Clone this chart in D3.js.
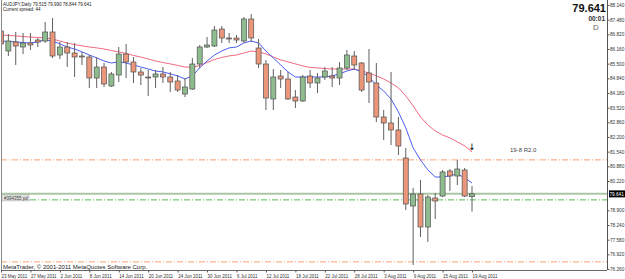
<!DOCTYPE html>
<html>
<head>
<meta charset="utf-8">
<script src="https://cdn.jsdelivr.net/npm/d3@7"></script>
<style>
  body { margin: 0; background: #fff; }
  svg { display: block; }
  text { font-family: Arial, "Liberation Sans", sans-serif; }
</style>
</head>
<body>
<div id="chart"></div>
<script>
// AUDJPY daily, 23 May - 19 Aug 2011
const symbol = "AUDJPY,Daily";
const spread = 44;
const serverTime = "00:01";

const opens = [
  86.97, 86.07, 86.475, 86.25, 86.43, 86.565, 86.52, 86.925, 85.89, 86.25,
  85.98, 85.845, 85.80, 84.855, 85.35, 84.495, 84.99, 85.935, 85.575, 85.125,
  84.90, 84.90, 85.035, 84.90, 84.72, 84.135, 84.36, 85.485, 86.25, 86.295,
  87.06, 86.655, 86.655, 86.52, 87.51, 86.205, 85.485, 83.91, 84.945, 84.81,
  84.00, 83.82, 84.945, 84.63, 84.90, 84.945, 84.855, 85.305, 85.845, 85.53,
  85.08, 84.63, 83.10, 82.83, 82.515, 81.255, 79.095, 79.635, 78.15, 79.455,
  79.545, 80.67, 80.445, 80.715, 79.515
];
const highs = [
  87.00, 86.835, 86.925, 86.88, 86.88, 86.655, 87.375, 87.555, 86.475, 86.475,
  86.43, 86.025, 85.89, 85.80, 85.53, 85.125, 86.25, 86.385, 85.80, 85.305,
  85.215, 85.215, 85.35, 85.125, 84.99, 84.855, 85.755, 86.34, 86.70, 87.195,
  87.195, 86.88, 86.79, 87.60, 87.735, 86.61, 85.665, 85.26, 85.215, 85.125,
  84.315, 84.99, 85.215, 85.08, 85.35, 85.35, 85.575, 86.115, 86.07, 85.575,
  86.16, 85.53, 83.415, 85.125, 83.10, 81.705, 79.905, 80.265, 79.59, 79.68,
  80.715, 80.76, 81.165, 80.805, 79.99
];
const lows = [
  85.665, 85.845, 85.44, 85.935, 86.115, 86.25, 86.43, 85.755, 85.71, 85.35,
  84.90, 85.44, 84.405, 84.405, 84.45, 84.45, 84.675, 84.855, 84.63, 84.54,
  84.045, 84.405, 84.63, 84.225, 84.225, 84.00, 84.315, 85.305, 86.205, 86.25,
  86.43, 86.43, 86.43, 86.43, 86.475, 85.305, 83.415, 83.415, 84.405, 83.865,
  83.505, 83.775, 84.405, 84.18, 84.765, 84.45, 84.54, 85.215, 85.215, 84.225,
  83.73, 82.875, 82.065, 81.84, 81.39, 78.915, 76.44, 77.70, 77.475, 78.51,
  79.50, 79.77, 80.04, 79.50, 78.844
];
const closes = [
  86.385, 86.52, 86.295, 86.43, 86.34, 86.475, 86.925, 85.845, 86.25, 85.98,
  85.80, 85.80, 84.855, 85.35, 84.585, 85.035, 85.935, 85.575, 85.125, 84.99,
  84.88, 85.035, 84.90, 84.675, 84.315, 84.45, 85.485, 86.25, 86.34, 87.015,
  86.655, 86.63, 86.565, 87.51, 86.655, 85.485, 83.955, 84.90, 84.81, 83.91,
  83.82, 84.90, 84.63, 84.855, 85.17, 84.855, 85.305, 85.89, 85.44, 84.315,
  84.675, 83.10, 82.83, 82.515, 81.795, 79.185, 79.635, 78.15, 79.50, 79.32,
  80.625, 80.445, 80.76, 79.545, 79.641
];

// moving averages as drawn on the chart
const fastMA = [
  86.52, 86.50, 86.48, 86.45, 86.43, 86.48, 86.57, 86.52, 86.39, 86.25,
  86.16, 86.03, 85.89, 85.76, 85.62, 85.53, 85.58, 85.53, 85.44, 85.35,
  85.26, 85.17, 85.13, 85.04, 84.95, 84.81, 84.95, 85.31, 85.62, 85.89,
  86.07, 86.21, 86.25, 86.43, 86.52, 86.43, 86.07, 85.76, 85.44, 85.13,
  84.90, 84.90, 84.90, 84.90, 84.90, 84.95, 85.04, 85.17, 85.26, 85.13,
  84.90, 84.54, 84.27, 83.91, 83.33, 82.61, 81.71, 81.17, 80.72, 80.40,
  80.40, 80.45, 80.54, 80.36, 80.13
];
const slowMA = [
  86.79, 86.77, 86.75, 86.72, 86.70, 86.68, 86.66, 86.61, 86.52, 86.43,
  86.36, 86.30, 86.25, 86.21, 86.16, 86.09, 86.03, 85.96, 85.87, 85.80,
  85.71, 85.62, 85.55, 85.49, 85.42, 85.35, 85.33, 85.42, 85.55, 85.69,
  85.78, 85.85, 85.89, 85.98, 86.07, 86.03, 85.94, 85.80, 85.67, 85.58,
  85.49, 85.40, 85.33, 85.31, 85.28, 85.26, 85.26, 85.26, 85.26, 85.17,
  85.08, 84.95, 84.81, 84.63, 84.41, 84.05, 83.60, 83.10, 82.74, 82.47,
  82.29, 82.16, 81.98, 81.80, 81.53
];

const dateTicks = [0, 4, 8, 12, 16, 20, 24, 28, 32, 36, 40, 44, 48, 52, 56, 60, 64];
const dateLabels = [
  "23 May 2011", "27 May 2011", "2 Jun 2011", "8 Jun 2011", "14 Jun 2011",
  "20 Jun 2011", "24 Jun 2011", "30 Jun 2011", "6 Jul 2011", "12 Jul 2011",
  "18 Jul 2011", "22 Jul 2011", "28 Jul 2011", "3 Aug 2011", "9 Aug 2011",
  "15 Aug 2011", "19 Aug 2011"
];
const priceTicks = [88.14, 87.48, 86.82, 86.16, 85.50, 84.84, 84.18, 83.52, 82.86,
  82.20, 81.54, 80.88, 80.22, 78.90, 78.24, 77.58, 76.92, 76.26];

const r2Level = 81.17;
const r2Label = "19-8 R2.0";
const lowLevel = 76.58;
const greenLevel = 79.37;
const bid = 79.641;
const objLabel = "#394355 pd";

const width = 625, height = 279;
const plot = { left: 1, right: 607, top: 0, bottom: 270 };

const svg = d3.select("#chart").append("svg")
  .attr("width", width)
  .attr("height", height);

svg.append("rect").attr("width", width).attr("height", height).attr("fill", "#fff");

svg.append("defs").append("clipPath").attr("id", "clip")
  .append("rect")
  .attr("x", plot.left).attr("y", plot.top)
  .attr("width", plot.right - plot.left).attr("height", plot.bottom - plot.top);

const x = d3.scaleLinear().domain([0, 64]).range([1, 472]);
const y = d3.scaleLinear().domain([76.26, 88.14]).range([269, 5]);

const bars = d3.range(opens.length).map(i => ({
  i, o: opens[i], h: highs[i], l: lows[i], c: closes[i]
}));

const g = svg.append("g").attr("clip-path", "url(#clip)");

// horizontal objects
g.append("line")
  .attr("x1", plot.left).attr("x2", plot.right)
  .attr("y1", y(bid)).attr("y2", y(bid))
  .attr("stroke", "#aac6a2").attr("stroke-width", 2);

g.append("line")
  .attr("x1", 30).attr("x2", plot.right)
  .attr("y1", y(greenLevel)).attr("y2", y(greenLevel))
  .attr("stroke", "#55bb55").attr("stroke-width", 1)
  .attr("stroke-dasharray", "6,2,1,2");

[r2Level, lowLevel].forEach(v => {
  g.append("line")
    .attr("x1", plot.left).attr("x2", plot.right)
    .attr("y1", y(v)).attr("y2", y(v))
    .attr("stroke", "#f7a070").attr("stroke-width", 1)
    .attr("stroke-dasharray", "6,2,1,2");
});

// moving averages
const line = arr => d3.line().x((d, i) => x(i)).y(d => y(d))(arr);
g.append("path").attr("d", line(slowMA))
  .attr("fill", "none").attr("stroke", "#f26a82").attr("stroke-width", 1);
g.append("path").attr("d", line(fastMA))
  .attr("fill", "none").attr("stroke", "#4d5ef2").attr("stroke-width", 1);

// candles
const candle = g.selectAll(".candle").data(bars).enter()
  .append("g").attr("class", "candle");

candle.append("line")
  .attr("x1", d => x(d.i)).attr("x2", d => x(d.i))
  .attr("y1", d => y(d.h)).attr("y2", d => y(d.l))
  .attr("stroke", "#606060").attr("stroke-width", 1);

candle.append("rect")
  .attr("x", d => x(d.i) - 2.5)
  .attr("width", 5)
  .attr("y", d => y(Math.max(d.o, d.c)))
  .attr("height", d => Math.max(1, Math.abs(y(d.o) - y(d.c))))
  .attr("fill", d => d.c >= d.o ? "#8fbc8f" : "#e9967a")
  .attr("stroke", "#505050").attr("stroke-width", 0.7);

// arrow and pivot label
g.append("text")
  .attr("x", x(64)).attr("y", y(r2Level) - 10)
  .attr("text-anchor", "middle")
  .attr("font-size", 9).attr("fill", "#000")
  .style("font-family", "DejaVu Sans")
  .text("↓");

g.append("text")
  .attr("x", 510).attr("y", y(r2Level) - 8)
  .attr("font-size", 6).attr("fill", "#444")
  .text(r2Label);

// object label on the left
g.append("rect")
  .attr("x", 2).attr("y", y(greenLevel) - 5)
  .attr("width", 27).attr("height", 6)
  .attr("fill", "#e8e8e8").attr("stroke", "#999").attr("stroke-width", 0.5);
g.append("text")
  .attr("x", 4).attr("y", y(greenLevel))
  .attr("font-size", 4.5).attr("fill", "#333")
  .text(objLabel);

// frame
svg.append("line").attr("x1", 1.5).attr("x2", 1.5).attr("y1", 0).attr("y2", plot.bottom)
  .attr("stroke", "#888");
svg.append("line").attr("x1", 1).attr("x2", plot.right).attr("y1", plot.bottom + 0.5).attr("y2", plot.bottom + 0.5)
  .attr("stroke", "#666");

// right price axis
const yAxis = svg.append("g")
  .attr("transform", `translate(${plot.right + 0.5},0)`)
  .call(d3.axisRight(y).tickValues(priceTicks).tickSize(2).tickPadding(0.5)
    .tickFormat(d3.format(".3f")));
yAxis.select(".domain").attr("stroke", "#555").attr("d", `M0,0V${plot.bottom}`);
yAxis.selectAll(".tick line").attr("stroke", "#555");
yAxis.selectAll("text").attr("font-size", 4.7).attr("fill", "#333")
  .style("font-family", "Arial, 'Liberation Sans', sans-serif");

// bid price label
svg.append("rect")
  .attr("x", plot.right + 2).attr("y", y(bid) - 3.5)
  .attr("width", 16).attr("height", 7).attr("fill", "#000");
svg.append("text")
  .attr("x", plot.right + 2.5).attr("y", y(bid) + 1.8)
  .attr("font-size", 4.7).attr("fill", "#fff")
  .text(bid.toFixed(3));

// bottom date axis
const xAxis = svg.append("g")
  .attr("transform", `translate(0,${plot.bottom + 0.5})`)
  .call(d3.axisBottom(x).tickValues(dateTicks).tickSize(2)
    .tickFormat((d, i) => dateLabels[i]));
xAxis.select(".domain").remove();
xAxis.selectAll(".tick line").attr("stroke", "#555");
xAxis.selectAll("text")
  .attr("text-anchor", "start").attr("x", 0).attr("dy", 0).attr("y", 7)
  .attr("font-size", 4.5).attr("fill", "#333")
  .style("font-family", "Arial, 'Liberation Sans', sans-serif");

// header text
const last = bars[bars.length - 1];
svg.append("text").attr("x", 3).attr("y", 5.5)
  .attr("font-size", 4.5).attr("fill", "#222")
  .text(`${symbol}  ${last.o.toFixed(3)} ${last.h.toFixed(3)} ${last.l.toFixed(3)} ${last.c.toFixed(3)}`);
svg.append("text").attr("x", 3).attr("y", 11)
  .attr("font-size", 4.5).attr("fill", "#222")
  .text(`Current spread: ${spread}`);

// top-right bid readout
svg.append("text").attr("x", 606).attr("y", 12)
  .attr("text-anchor", "end").attr("font-size", 11).attr("font-weight", "bold")
  .attr("fill", "#111").text(bid.toFixed(3));
svg.append("text").attr("x", 605).attr("y", 21)
  .attr("text-anchor", "end").attr("font-size", 6.5).attr("font-weight", "bold")
  .attr("fill", "#333").text(serverTime);
svg.append("text").attr("x", 596).attr("y", 30)
  .attr("text-anchor", "middle").attr("font-size", 8)
  .attr("fill", "#666").text("D");

// copyright
svg.append("text").attr("x", 3).attr("y", 268.5)
  .attr("font-size", 6).attr("fill", "#222")
  .text("MetaTrader, © 2001-2011 MetaQuotes Software Corp.");
</script>
</body>
</html>
